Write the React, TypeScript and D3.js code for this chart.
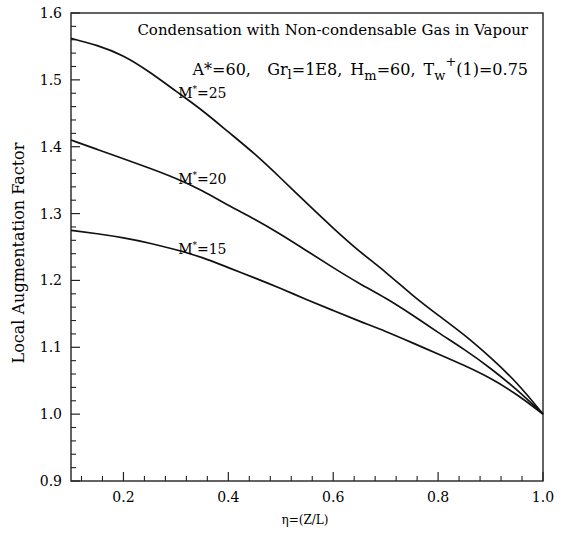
import React from 'react';
import * as d3 from 'd3';

const eta = [0.1, 0.15, 0.2, 0.25, 0.3, 0.35, 0.4, 0.45, 0.5, 0.55, 0.6, 0.65, 0.7, 0.75, 0.8, 0.85, 0.9, 0.95, 1.0];
const m25 = [1.562, 1.552, 1.537, 1.512, 1.483, 1.455, 1.422, 1.39, 1.353, 1.315, 1.278, 1.243, 1.213, 1.178, 1.148, 1.119, 1.085, 1.048, 1.0];
const m20 = [1.41, 1.396, 1.382, 1.368, 1.353, 1.335, 1.312, 1.292, 1.269, 1.244, 1.219, 1.195, 1.174, 1.149, 1.122, 1.097, 1.069, 1.037, 1.0];
const m15 = [1.275, 1.27, 1.264, 1.256, 1.246, 1.235, 1.219, 1.204, 1.188, 1.171, 1.155, 1.139, 1.124, 1.107, 1.09, 1.073, 1.054, 1.03, 1.0];
const seriesLabels = ['25', '20', '15'];
const labelAt = [0.31, 0.31, 0.31];

const xTickLabels = [0.2, 0.4, 0.6, 0.8, 1.0];
const yTickLabels = [0.9, 1.0, 1.1, 1.2, 1.3, 1.4, 1.5, 1.6];

const W = 564;
const H = 542;
const left = 71;
const right = 543;
const top = 13;
const bottom = 481;
const font = '"DejaVu Serif", "Liberation Serif", serif';

export default function App() {
  const x = d3.scaleLinear().domain([0.1, 1.0]).range([left, right]);
  const y = d3.scaleLinear().domain([0.9, 1.6]).range([bottom, top]);

  const line = d3.line<[number, number]>()
    .x(d => x(d[0]))
    .y(d => y(d[1]))
    .curve(d3.curveBasis);

  const series = [m25, m20, m15];

  // minor ticks: x every 0.04, y every 0.02
  const xMinor = d3.range(0.12, 1.0, 0.04).filter(v => Math.abs(v / 0.2 - Math.round(v / 0.2)) > 0.01);
  const yMinor = d3.range(0.92, 1.6, 0.02).filter(v => Math.abs(v / 0.1 - Math.round(v / 0.1)) > 0.01);

  const axisColor = '#222';

  return (
    <svg width={W} height={H} style={{ position: 'absolute', left: 0, top: 0, background: '#fff' }} fontFamily={font}>
      {/* frame */}
      <rect x={left} y={top} width={right - left} height={bottom - top} fill="none" stroke={axisColor} strokeWidth={1.4} />

      {/* x ticks */}
      {xTickLabels.map(v => (
        <g key={'xt' + v}>
          <line x1={x(v)} x2={x(v)} y1={bottom} y2={bottom - 9} stroke={axisColor} strokeWidth={1.2} />
          <text x={x(v)} y={bottom + 21} textAnchor="middle" fontSize={14}>{v.toFixed(1)}</text>
        </g>
      ))}
      {xMinor.map(v => (
        <line key={'xm' + v} x1={x(v)} x2={x(v)} y1={bottom} y2={bottom - 5} stroke={axisColor} strokeWidth={1.1} />
      ))}

      {/* y ticks */}
      {yTickLabels.map(v => (
        <g key={'yt' + v}>
          <line x1={left} x2={left + 9} y1={y(v)} y2={y(v)} stroke={axisColor} strokeWidth={1.2} />
          <text x={left - 9} y={y(v) + 5} textAnchor="end" fontSize={14}>{v.toFixed(1)}</text>
        </g>
      ))}
      {yMinor.map(v => (
        <line key={'ym' + v} x1={left} x2={left + 5} y1={y(v)} y2={y(v)} stroke={axisColor} strokeWidth={1.1} />
      ))}

      {/* curves */}
      {series.map((s, i) => (
        <path key={'s' + i} d={line(eta.map((e, j) => [e, s[j]] as [number, number])) || ''} fill="none" stroke="#111" strokeWidth={1.7} />
      ))}

      {/* curve labels */}
      {series.map((s, i) => {
        const v = d3.scaleLinear().domain(eta).range(s)(labelAt[i]);
        return (
          <text key={'l' + i} x={x(labelAt[i]) - 3} y={y(v) + 3} fontSize={14}>
            M<tspan dy={-6} fontSize={9}>*</tspan><tspan dy={6}>={seriesLabels[i]}</tspan>
          </text>
        );
      })}

      {/* annotation */}
      <text x={528} y={35} textAnchor="end" fontSize={15}>Condensation with Non-condensable Gas in Vapour</text>
      <text x={528} y={75} textAnchor="end" fontSize={16} wordSpacing={3}>
        A*=60,{'\u00a0\u00a0'}Gr<tspan dy={4} fontSize={13}>l</tspan><tspan dy={-4}>=1E8, H</tspan>
        <tspan dy={5} fontSize={13}>m</tspan><tspan dy={-5}>=60, T</tspan>
        <tspan dy={5} fontSize={13}>w</tspan><tspan dy={-14} fontSize={13}>+</tspan><tspan dy={9}>(1)=0.75</tspan>
      </text>

      {/* axis titles */}
      <text transform={`translate(24, ${(top + bottom) / 2 + 6}) rotate(-90)`} textAnchor="middle" fontSize={16}>Local Augmentation Factor</text>
      <text x={305} y={524} textAnchor="middle" fontSize={12}>η=(Z/L)</text>
    </svg>
  );
}
